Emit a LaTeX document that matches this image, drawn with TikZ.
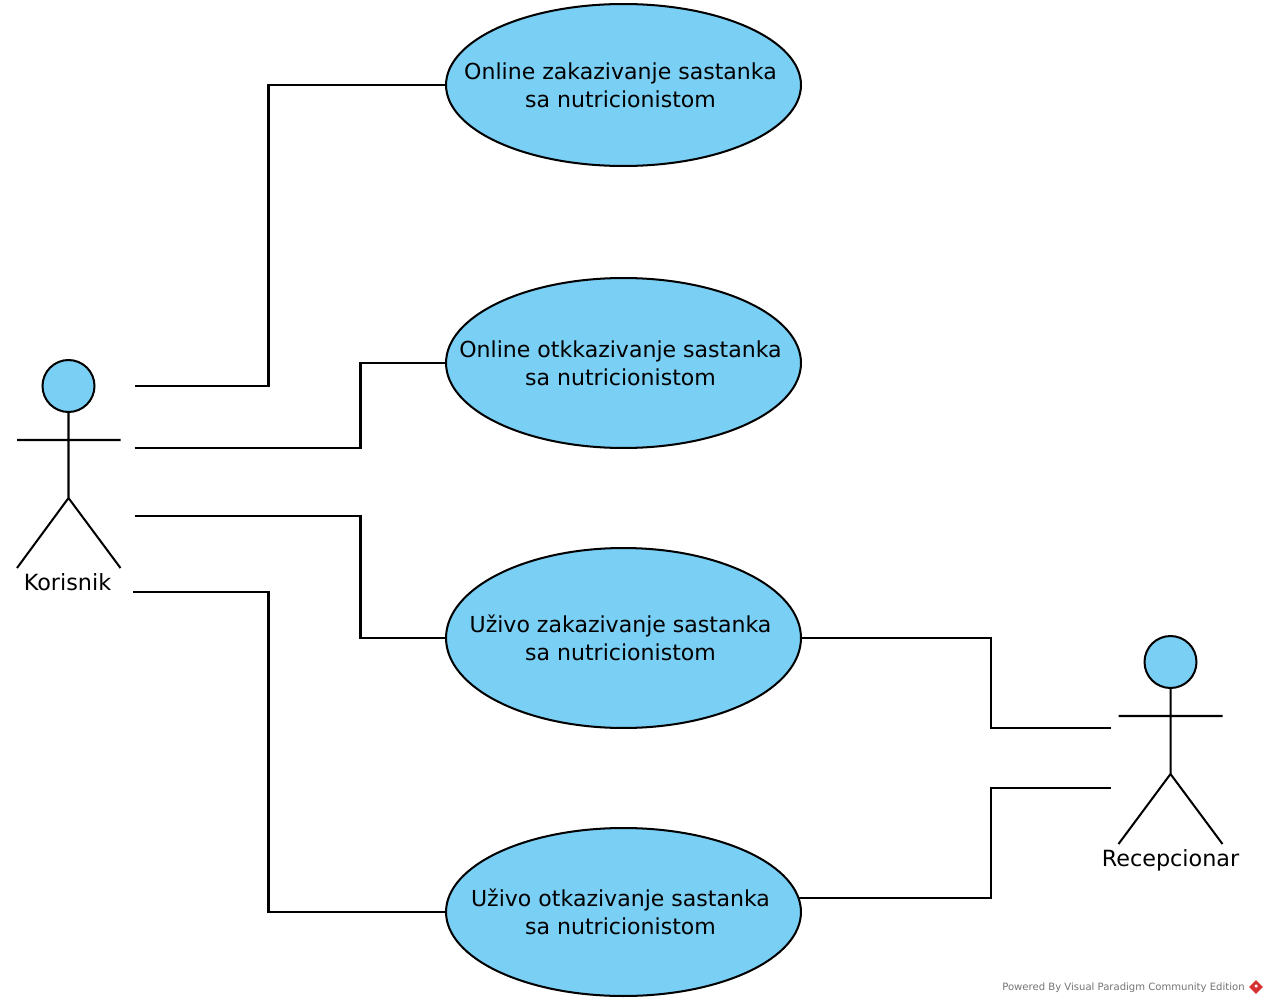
\documentclass[tikz,border=0pt]{standalone}
\usepackage{fontspec}
\usepackage{xcolor}
\setmainfont{DejaVu Sans}
\usetikzlibrary{calc, positioning, shapes.geometric}

\definecolor{ucblue}{RGB}{122,207,245}
\definecolor{vpred}{RGB}{214,48,49}
\newcommand{\trail}{\hspace*{3.4pt}}

\tikzset{
    usecase/.style={ellipse, draw=black, fill=ucblue, line width=1.15pt, minimum width=7.1cm, inner xsep=-1cm, inner ysep=0pt, align=center, font=\fontsize{12.55}{15.9}\selectfont},
    head/.style={circle, draw=black, fill=ucblue, line width=1.15pt, minimum size=1.04cm, inner sep=0pt},
    actorname/.style={font=\fontsize{12.7}{15.9}\selectfont, inner sep=0pt},
    link/.style={line width=1.15pt},
}

\begin{document}
\begin{tikzpicture}[x=0.02cm, y=-0.02cm]
    \useasboundingbox (0, 0) rectangle (1268, 1004);

    \node[usecase, minimum height=3.24cm] (online1) at (623.5, 85) {Online zakazivanje sastanka\trail\\sa nutricionistom\trail};
    \node[usecase, minimum height=3.40cm] (online2) at (623.5, 363) {Online otkkazivanje sastanka\trail\\sa nutricionistom\trail};
    \node[usecase, minimum height=3.60cm] (uzivo1) at (623.5, 638) {Uživo zakazivanje sastanka\trail\\sa nutricionistom\trail};
    \node[usecase, minimum height=3.36cm] (uzivo2) at (623.5, 912) {Uživo otkazivanje sastanka\trail\\sa nutricionistom\trail};

    % korisnik
    \node[head] (khead) at (68.5, 386) {};
    \coordinate (khip) at (68.5, 498);
    \coordinate (kleft) at (17, 440);
    \coordinate (kright) at (120.5, 440);
    \coordinate (kfootl) at (17, 568);
    \coordinate (kfootr) at (120.5, 568);
    \node[actorname] (korisnik) at (67.5, 582) {Korisnik};
    \draw[link]
    (khead) -- (khip)
    (kleft) -- (kright)
    (kfootl) -- (khip) -- (kfootr);

    % recepcionar
    \node[head] (rhead) at (1170.5, 662) {};
    \coordinate (rhip) at (1170.5, 774);
    \coordinate (rleft) at (1118.5, 716);
    \coordinate (rright) at (1222.5, 716);
    \coordinate (rfootl) at (1118.5, 844);
    \coordinate (rfootr) at (1222.5, 844);
    \node[actorname] (recepcionar) at (1170.5, 860) {Recepcionar};
    \draw[link]
    (rhead) -- (rhip)
    (rleft) -- (rright)
    (rfootl) -- (rhip) -- (rfootr);

    % free ends
    \coordinate (k1) at (134.5, 386);
    \coordinate (k2) at (134.5, 448);
    \coordinate (k3) at (134.5, 516);
    \coordinate (k4) at (133, 592);
    \coordinate (r1) at (1110.5, 728);
    \coordinate (r2) at (1110.5, 788);
    \coordinate (u2out) at ($(uzivo2.5) + (0, 1)$);

    \draw[link]
    (k1) -- ++(134, 0) |- (online1.west)
    (k2) -- ++(226, 0) |- (online2.west)
    (k3) -- ++(226, 0) |- (uzivo1.west)
    (k4) -- ++(135.5, 0) |- (uzivo2.west)
    (r1) -- ++(-120, 0) |- (uzivo1.east)
    (r2) -- ++(-120, 0) |- (u2out);

    % watermark
    \node[anchor=east, inner sep=0pt, text=black!55, font=\fontsize{5.73}{6.5}\selectfont] (powered) at (1245, 988) {Powered By Visual Paradigm Community Edition};
    \node[diamond, fill=vpred, minimum size=0.28cm, inner sep=0pt] (vplogo) at (1256, 987) {};
    \fill[white] (vplogo.center) ++(0, -1) circle (0.035cm);
    \draw[white, line width=0.3pt] (1250, 990) -- (1256, 995) -- (1262, 990);
\end{tikzpicture}
\end{document}
